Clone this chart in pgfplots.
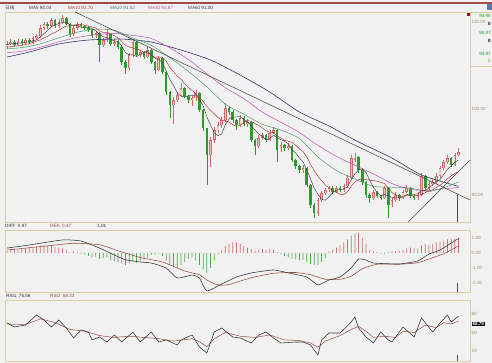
\documentclass[border=0pt]{standalone}
\usepackage{pgfplots}
\pgfplotsset{compat=1.18}
\usepackage{pgfplotstable}
\usepackage{fontspec}
\setmainfont{Liberation Sans}
\newfontfamily\cjk{Noto Sans CJK SC}
\definecolor{bg}{HTML}{F1F1F1}
\definecolor{khaki}{HTML}{D6D0A2}
\definecolor{upc}{HTML}{D26868}
\definecolor{upfill}{HTML}{F0C4C4}
\definecolor{dnc}{HTML}{2E9A2E}
\definecolor{ma5c}{HTML}{3C3C3C}
\definecolor{ma10c}{HTML}{B03A3A}
\definecolor{ma20c}{HTML}{4E9A6A}
\definecolor{ma30c}{HTML}{C050B8}
\definecolor{ma60c}{HTML}{34346E}
\definecolor{trendc}{HTML}{4A4A4A}
\definecolor{lblc}{HTML}{9A9070}
\definecolor{diffc}{HTML}{303030}
\definecolor{deac}{HTML}{A04848}
\definecolor{histup}{HTML}{C87070}
\definecolor{histdn}{HTML}{4EAA4E}
\definecolor{numg}{HTML}{2A9A2A}
\definecolor{topred}{HTML}{9C4A4A}
\definecolor{ma20t}{HTML}{4F7C7C}
\definecolor{iconblue}{HTML}{5A78B4}
\newcommand{\tf}{\fontsize{4.6}{5}\selectfont}

\pgfplotstableread{
i o h l c
0 107.20 107.80 106.90 107.46
1 107.46 108.00 107.30 107.69
2 107.69 107.90 107.10 107.34
3 107.34 108.00 107.20 107.80
4 107.80 108.00 107.40 107.57
5 107.57 108.20 107.40 107.92
6 107.92 108.10 107.50 107.69
7 107.69 108.40 107.50 108.15
8 108.15 108.60 107.90 108.38
9 108.38 109.60 108.20 109.31
10 109.31 110.00 109.10 109.77
11 109.77 110.00 109.20 109.54
12 109.54 110.50 109.40 110.23
13 110.23 110.40 109.30 109.54
14 109.54 110.30 109.30 110.00
15 110.00 110.80 109.80 110.46
16 110.46 110.60 109.60 109.77
17 109.77 109.90 108.30 108.61
18 108.61 109.60 108.40 109.31
19 109.31 110.00 109.10 109.77
20 109.77 109.90 109.30 109.54
21 109.54 109.70 109.10 109.31
22 109.31 109.50 108.90 109.08
23 109.08 109.20 108.20 108.38
24 108.38 109.00 108.20 108.73
25 108.73 108.90 105.40 107.34
26 107.34 108.20 107.10 107.92
27 107.92 109.10 107.70 108.60
28 108.60 108.70 107.20 107.46
29 107.46 108.00 107.20 107.69
30 107.69 107.90 106.90 107.11
31 107.11 107.20 105.00 105.38
32 105.38 105.60 104.00 104.68
33 104.68 106.40 104.50 106.18
34 106.18 108.00 106.00 107.69
35 107.69 107.80 105.90 106.18
36 106.18 106.80 106.00 106.53
37 106.53 106.70 105.70 105.95
38 105.95 107.20 105.80 106.76
39 106.76 106.90 105.10 105.38
40 105.38 105.50 104.00 104.45
41 104.45 106.10 104.30 105.84
42 105.84 106.00 104.00 104.22
43 104.22 104.30 101.60 101.91
44 101.91 102.00 98.90 100.40
45 100.40 101.30 98.20 100.98
46 100.98 101.90 100.70 101.56
47 101.56 102.90 101.30 102.37
48 102.37 102.50 101.20 101.45
49 101.45 101.60 100.60 100.98
50 100.98 101.50 100.30 101.21
51 101.21 102.10 100.90 101.79
52 101.79 101.90 99.60 99.83
53 99.83 99.90 97.40 97.75
54 97.75 97.80 91.20 94.62
55 94.62 96.70 93.20 96.36
56 96.36 97.90 96.00 97.51
57 97.51 98.40 97.20 98.09
58 98.09 99.00 97.80 98.67
59 98.67 100.60 98.40 100.06
60 100.06 100.30 99.30 99.60
61 99.60 99.80 98.30 98.67
62 98.67 98.80 97.50 98.09
63 98.09 99.20 97.90 98.90
64 98.90 99.10 98.00 98.21
65 98.21 98.80 97.90 98.44
66 98.44 98.60 96.10 96.36
67 96.36 96.50 94.60 95.66
68 95.66 96.90 95.40 96.59
69 96.59 97.20 96.40 96.94
70 96.94 97.10 96.10 96.36
71 96.36 97.50 96.20 97.17
72 97.17 97.90 97.00 97.51
73 97.51 97.60 93.80 95.20
74 95.20 96.10 95.00 95.78
75 95.78 95.90 95.10 95.43
76 95.43 96.00 95.20 95.66
77 95.66 95.80 93.80 94.05
78 94.05 94.20 93.00 93.35
79 93.35 93.50 92.50 92.89
80 92.89 93.50 92.60 93.12
81 93.12 93.20 90.90 91.16
82 91.16 91.30 88.50 88.84
83 88.84 89.10 87.30 87.92
84 87.92 89.60 87.60 89.42
85 89.42 90.50 89.20 90.23
86 90.23 90.80 90.00 90.58
87 90.58 91.10 90.40 90.81
88 90.81 91.00 90.10 90.35
89 90.35 91.10 90.20 90.81
90 90.81 91.00 90.30 90.58
91 90.58 91.30 90.40 91.04
92 91.04 92.30 90.80 91.97
93 91.97 94.60 91.80 94.28
94 94.10 94.90 93.80 94.40
95 94.40 94.50 92.60 92.89
96 92.89 93.10 91.20 91.50
97 91.50 91.60 89.70 90.00
98 90.00 90.20 89.10 89.65
99 89.65 90.60 89.40 90.35
100 90.35 90.50 89.60 89.88
101 89.88 90.00 89.40 89.65
102 89.65 91.10 89.50 90.81
103 90.81 90.90 87.30 88.84
104 88.84 89.70 88.60 89.42
105 89.42 90.30 89.20 90.00
106 90.00 90.10 89.30 89.65
107 89.65 90.60 89.50 90.35
108 90.35 91.20 90.20 90.81
109 90.81 90.90 89.60 89.88
110 89.88 90.00 89.40 89.65
111 89.65 90.30 89.40 90.00
112 90.00 92.50 89.90 92.20
113 92.20 92.30 90.60 90.81
114 90.81 91.60 90.60 91.27
115 91.27 91.80 91.10 91.50
116 91.50 92.50 91.30 92.20
117 92.20 93.40 92.00 93.12
118 93.12 94.10 92.90 93.81
119 93.81 94.60 93.60 94.28
120 94.28 94.40 93.20 93.47
121 93.47 94.90 93.30 94.62
122 94.62 95.40 94.50 94.97
}\candles

\pgfplotstableread{
i ma5 ma10
0 107.40 107.10
1 107.45 107.15
2 107.50 107.20
3 107.55 107.25
4 107.57 107.29
5 107.66 107.40
6 107.66 107.50
7 107.83 107.65
8 107.94 107.80
9 108.29 107.93
10 108.66 108.16
11 109.03 108.35
12 109.45 108.64
13 109.68 108.81
14 109.82 109.05
15 109.95 109.31
16 110.00 109.52
17 109.68 109.56
18 109.63 109.65
19 109.58 109.70
20 109.40 109.68
21 109.31 109.65
22 109.40 109.54
23 109.22 109.42
24 109.01 109.30
25 108.57 108.98
26 108.29 108.80
27 108.19 108.80
28 108.01 108.61
29 107.80 108.41
30 107.76 108.16
31 107.25 107.77
32 106.46 107.33
33 106.21 107.11
34 106.21 107.01
35 106.02 106.89
36 106.25 106.75
37 106.51 106.49
38 106.62 106.42
39 106.16 106.18
40 105.81 105.92
41 105.68 105.96
42 105.33 105.92
43 104.36 105.49
44 103.36 104.76
45 102.67 104.24
46 101.81 103.75
47 101.44 103.39
48 101.35 102.86
49 101.47 102.42
50 101.51 102.09
51 101.56 101.69
52 101.05 101.25
53 100.31 100.83
54 99.04 100.25
55 98.07 99.79
56 97.21 99.39
57 96.87 98.96
58 97.05 98.68
59 98.14 98.59
60 98.79 98.43
61 99.02 98.12
62 99.02 97.94
63 99.06 98.06
64 98.69 98.42
65 98.46 98.62
66 98.00 98.51
67 97.51 98.27
68 97.05 98.06
69 96.80 97.75
70 96.38 97.42
71 96.54 97.27
72 96.91 97.21
73 96.64 96.84
74 96.40 96.60
75 96.22 96.30
76 95.92 96.23
77 95.22 96.07
78 94.85 95.75
79 94.28 95.34
80 93.81 95.02
81 92.91 94.42
82 91.87 93.55
83 90.79 92.82
84 90.09 92.18
85 89.51 91.66
86 89.40 91.16
87 89.79 90.83
88 90.28 90.53
89 90.56 90.32
90 90.63 90.07
91 90.72 90.06
92 90.95 90.37
93 91.74 91.01
94 92.45 91.51
95 92.92 91.77
96 93.01 91.86
97 92.61 91.78
98 91.69 91.71
99 90.88 91.67
100 90.28 91.60
101 89.91 91.46
102 90.07 91.34
103 89.91 90.80
104 89.72 90.30
105 89.74 90.01
106 89.74 89.83
107 89.65 89.86
108 90.05 89.98
109 90.14 89.93
110 90.07 89.91
111 90.14 89.94
112 90.51 90.08
113 90.51 90.28
114 90.79 90.46
115 91.16 90.61
116 91.60 90.87
117 91.78 91.14
118 92.38 91.44
119 92.98 91.88
120 93.38 92.20
121 93.80 92.50
122 94.04 92.70
}\mashort

\pgfplotstableread{
i ma20 ma30
0 106.90 106.45
4 107.04 106.63
9 107.47 107.08
14 108.17 107.71
19 108.82 108.21
24 109.18 108.55
29 109.05 108.68
34 108.15 108.45
39 107.30 108.10
44 105.88 107.02
49 104.30 105.67
54 102.51 104.01
59 100.50 102.40
64 99.34 101.14
69 98.17 99.58
74 97.51 98.42
79 96.54 97.23
84 94.39 95.73
89 92.83 94.47
94 91.85 93.43
99 91.00 92.44
104 90.90 91.33
109 90.80 90.64
114 90.40 90.55
119 91.00 90.75
122 91.52 90.87
}\malong

\pgfplotstableread{
i v
0 105.95
6 106.53
14 107.46
22 107.92
31 108.03
39 107.69
47 106.76
55 105.61
63 103.87
71 101.91
79 99.60
87 97.98
95 96.13
104 94.28
112 92.31
122 91.00
}\masixty

\pgfplotstableread{
i v
0 0.33
6 0.53
15 0.87
20 0.80
25 0.33
29 -0.13
32 -0.45
36 -0.60
39 -0.67
43 -1.00
46 -1.67
50 -1.47
52 -1.67
54 -2.53
58 -2.07
62 -1.60
66 -1.33
72 -1.13
76 -1.33
81 -1.60
84 -2.13
87 -1.80
90 -1.60
93 -1.00
95 -0.40
97 -0.47
99 -0.67
106 -0.73
111 -0.53
114 -0.07
117 0.20
122 0.97
}\diff

\pgfplotstableread{
i v
0 0.20
10 0.45
18 0.65
25 0.55
30 0.15
36 -0.30
42 -0.60
48 -1.20
52 -1.45
54 -1.80
56 -2.05
58 -2.15
60 -2.10
62 -1.95
66 -1.65
72 -1.35
78 -1.30
82 -1.45
86 -1.75
90 -1.75
93 -1.55
96 -1.05
100 -0.75
106 -0.75
111 -0.65
114 -0.40
118 -0.05
122 0.47
}\dea

\pgfplotstableread{
i v
0 0.15
1 0.20
2 0.25
3 0.20
4 0.30
5 0.30
6 0.35
7 0.30
8 0.40
9 0.45
10 0.50
11 0.45
12 0.50
13 0.40
14 0.35
15 0.30
16 0.20
17 0.05
18 0.10
19 0.05
20 -0.05
21 -0.10
22 -0.20
23 -0.30
24 -0.25
25 -0.40
26 -0.35
27 -0.30
28 -0.50
29 -0.55
30 -0.60
31 -0.70
32 -0.80
33 -0.70
34 -0.55
35 -0.65
36 -0.55
37 -0.45
38 -0.30
39 -0.15
40 -0.10
41 -0.05
42 -0.20
43 -0.50
44 -0.80
45 -0.95
46 -1.00
47 -0.80
48 -0.60
49 -0.40
50 -0.30
51 -0.50
52 -0.80
53 -1.10
54 -1.35
55 -1.00
56 -0.50
57 -0.10
58 0.20
59 0.45
60 0.60
61 0.70
62 0.70
63 0.60
64 0.45
65 0.35
66 0.25
67 0.15
68 0.20
69 0.25
70 0.20
71 0.25
72 0.20
73 0.05
74 -0.10
75 -0.20
76 -0.30
77 -0.40
78 -0.45
79 -0.50
80 -0.45
81 -0.60
82 -0.75
83 -0.80
84 -0.80
85 -0.60
86 -0.35
87 0.10
88 0.20
89 0.35
90 0.50
91 0.70
92 0.90
93 1.15
94 1.30
95 1.33
96 1.00
97 0.60
98 0.20
99 0.10
100 0.05
101 -0.05
102 -0.05
103 0.05
104 0.10
105 0.10
106 0.15
107 0.20
108 0.30
109 0.35
110 0.30
111 0.30
112 0.50
113 0.60
114 0.55
115 0.60
116 0.70
117 0.75
118 0.80
119 0.90
120 0.90
121 0.95
122 1.01
}\hist

\pgfplotstableread{
i v
0 65.4
2 58.9
5 62.2
8 78.4
10 70.3
12 58.9
14 70.3
16 57.3
18 41.1
20 54.1
22 50.8
23 37.9
25 42.7
27 34.6
29 46.0
31 34.6
34 50.8
36 34.6
39 50.8
41 34.6
43 37.9
46 29.8
47 37.9
50 46.0
52 26.5
54 16.8
56 50.8
58 57.3
61 42.7
63 41.1
66 33.0
68 46.0
70 50.8
72 41.1
74 33.0
78 34.6
80 34.6
82 29.8
84 13.5
85 37.9
87 49.2
90 49.2
93 67.0
94 75.1
95 57.3
97 42.7
99 33.0
101 50.8
103 37.9
104 34.6
107 58.9
110 42.7
112 73.5
115 50.8
117 65.4
119 78.4
120 67.0
122 76.56
}\rsia

\pgfplotstableread{
i v
0 64
5 63
9 72
13 66
17 55
21 52
25 45
29 42
33 44
37 42
41 40
45 36
50 40
52 35
54 27
56 40
59 50
63 44
67 42
71 46
75 38
79 37
82 33
84 26
86 36
90 45
93 55
95 60
97 52
99 42
102 44
105 42
107 52
110 50
113 62
116 58
118 66
120 64
122 68.33
}\rsib

\pgfplotsset{
  panel/.style={
    scale only axis, width=465pt, xmin=-0.54, xmax=125.1,
    axis line style={draw=khaki, line width=0.7pt},
    axis background/.style={fill=bg},
    xtick=\empty, ytick pos=right, yticklabel pos=right,
    major tick length=0pt,
    yticklabel style={font=\tf, text=lblc, anchor=west, inner sep=1.5pt},
  },
  candlebar/.style={draw=none, mark=none, forget plot,
    error bars/.cd, y dir=plus, y explicit, error mark=none},
}

\begin{document}
\begin{tikzpicture}[x=1pt,y=1pt]
\fill[bg] (0,0) rectangle (492,-363);
\useasboundingbox (0,0) rectangle (492,-363);

% ---------- main price panel ----------
\begin{axis}[panel, at={(5pt,-12pt)}, anchor=north west, height=210pt,
  ymin=86.88, ymax=111.16, ytick={90,100,110},
  yticklabels={90.00,100.00,110.00}]
% wicks
\addplot[candlebar, error bar style={draw=upc, line width=0.5pt}]
  table[x=i, y expr={\thisrow{c}>=\thisrow{o} ? \thisrow{l} : nan},
        y error plus expr={\thisrow{h}-\thisrow{l}}] {\candles};
\addplot[candlebar, error bar style={draw=dnc, line width=0.5pt}]
  table[x=i, y expr={\thisrow{c}<\thisrow{o} ? \thisrow{l} : nan},
        y error plus expr={\thisrow{h}-\thisrow{l}}] {\candles};
% bodies
\addplot[candlebar, error bar style={draw=upc, line width=2.6pt}]
  table[x=i, y expr={\thisrow{c}>=\thisrow{o} ? \thisrow{o} : nan},
        y error plus expr={max(\thisrow{c}-\thisrow{o},0.08)}] {\candles};
\addplot[candlebar, error bar style={draw=upfill, line width=1.1pt}]
  table[x=i, y expr={\thisrow{c}>=\thisrow{o} ? \thisrow{o}+0.06 : nan},
        y error plus expr={max(\thisrow{c}-\thisrow{o}-0.12,0)}] {\candles};
\addplot[candlebar, error bar style={draw=dnc, line width=2.6pt}]
  table[x=i, y expr={\thisrow{c}<\thisrow{o} ? \thisrow{c} : nan},
        y error plus expr={max(\thisrow{o}-\thisrow{c},0.08)}] {\candles};
% moving averages
\addplot[ma60c, line width=0.6pt, smooth, tension=0.4] table[x=i, y=v] {\masixty};
\addplot[ma30c, line width=0.5pt, smooth, tension=0.4] table[x=i, y=ma30] {\malong};
\addplot[ma20c, line width=0.5pt, smooth, tension=0.4] table[x=i, y=ma20] {\malong};
\addplot[ma10c, line width=0.5pt] table[x=i, y=ma10] {\mashort};
\addplot[ma5c, line width=0.45pt] table[x=i, y=ma5] {\mashort};
% trend lines
\addplot[trendc, line width=0.55pt] coordinates {(18.4,111.16) (125.1,89.42)};
\addplot[trendc, line width=0.55pt] coordinates {(108.4,86.88) (125.1,94.05)};
\draw[trendc, line width=0.5pt] (axis cs:121.6,90) -- (axis cs:121.6,86.88);
\end{axis}

% ---------- MACD panel ----------
\begin{axis}[panel, at={(5pt,-230pt)}, anchor=north west, height=62pt,
  ymin=-2.6, ymax=1.533, ytick={-2,-1,0,1},
  yticklabels={-2.00,-1.00,0.00,1.00}]
\addplot[ybar, bar width=0.75pt, bar shift=0pt, fill=histup, draw=none,
  restrict y to domain=0:5] table[x=i, y=v] {\hist};
\addplot[ybar, bar width=0.75pt, bar shift=0pt, fill=histdn, draw=none,
  restrict y to domain=-5:0] table[x=i, y=v] {\hist};
\addplot[deac, line width=0.55pt, smooth, tension=0.3] table[x=i, y=v] {\dea};
\addplot[diffc, line width=0.55pt, smooth, tension=0.3] table[x=i, y=v] {\diff};
\draw[trendc, line width=0.5pt] (axis cs:121.6,-2.0) -- (axis cs:121.6,-2.6);
\end{axis}

% ---------- RSI panel ----------
\begin{axis}[panel, at={(5pt,-300pt)}, anchor=north west, height=61pt,
  ymin=3.8, ymax=102.7, ytick={20,50,80}, yticklabels={20,50,80}]
\addplot[deac, line width=0.5pt] table[x=i, y=v] {\rsib};
\addplot[diffc, line width=0.55pt] table[x=i, y=v] {\rsia};
\draw[trendc, line width=0.5pt] (axis cs:121.6,13.5) -- (axis cs:121.6,3.8);
\end{axis}

% ---------- decorations / labels ----------
\fill[topred] (0,-2) rectangle (492,-4.5);
\fill[iconblue] (486.5,-4.5) rectangle (492,-10);
\draw[khaki, line width=0.7pt] (470,-12) -- (492,-12);
\draw[khaki, line width=0.7pt] (470,-66) -- (492,-66);
\fill[red!75!black] (466.5,-13) rectangle (469.5,-16.5);

\node[anchor=west, inner sep=0, font=\tf, text=ma5c] at (5,-7.6) {\cjk 日线};
\node[anchor=west, inner sep=0, font=\tf, text=ma5c] at (29,-7.6) {MA5 94.04};
\node[anchor=west, inner sep=0, font=\tf, text=ma10c] at (68,-7.6) {MA10 92.70};
\node[anchor=west, inner sep=0, font=\tf, text=ma20t] at (110,-7.6) {MA20 91.52};
\node[anchor=west, inner sep=0, font=\tf, text=ma30c] at (148,-7.6) {MA30 90.87};
\node[anchor=west, inner sep=0, font=\tf, text=ma60c] at (188,-7.6) {MA60 91.00};

\node[anchor=west, inner sep=0, font=\tf, text=diffc] at (5,-226.3) {DIFF\ \ 0.97};
\node[anchor=west, inner sep=0, font=\tf, text=deac] at (50,-226.3) {DEA\ \ 0.47};
\node[anchor=west, inner sep=0, font=\tf, text=diffc] at (97,-226.3) {1.01};

\node[anchor=west, inner sep=0, font=\tf, text=diffc] at (6,-296.3) {RSI1\ \ 76.56};
\node[anchor=west, inner sep=0, font=\tf, text=deac] at (50,-296.3) {RSI2\ \ 68.33};

\node[anchor=east, inner sep=0, font=\tf, text=numg] at (491,-15.5) {94.98};
\node[anchor=east, inner sep=0, font=\tf\bfseries, text=black] at (491,-23.5) {0};
\node[anchor=east, inner sep=0, font=\tf, text=numg] at (491,-32.5) {94.97};
\node[anchor=east, inner sep=0, font=\tf\bfseries, text=black] at (491,-40.5) {0};
\node[anchor=east, inner sep=0, font=\tf, text=numg] at (491,-53.5) {94.97};
\node[anchor=east, inner sep=0, font=\tf, text=numg] at (490.5,-61) {1};

\node[anchor=west, fill=black, text=white, inner sep=0.8pt, font=\tf\bfseries] at (471.5,-324) {68.79};
\end{tikzpicture}
\end{document}
